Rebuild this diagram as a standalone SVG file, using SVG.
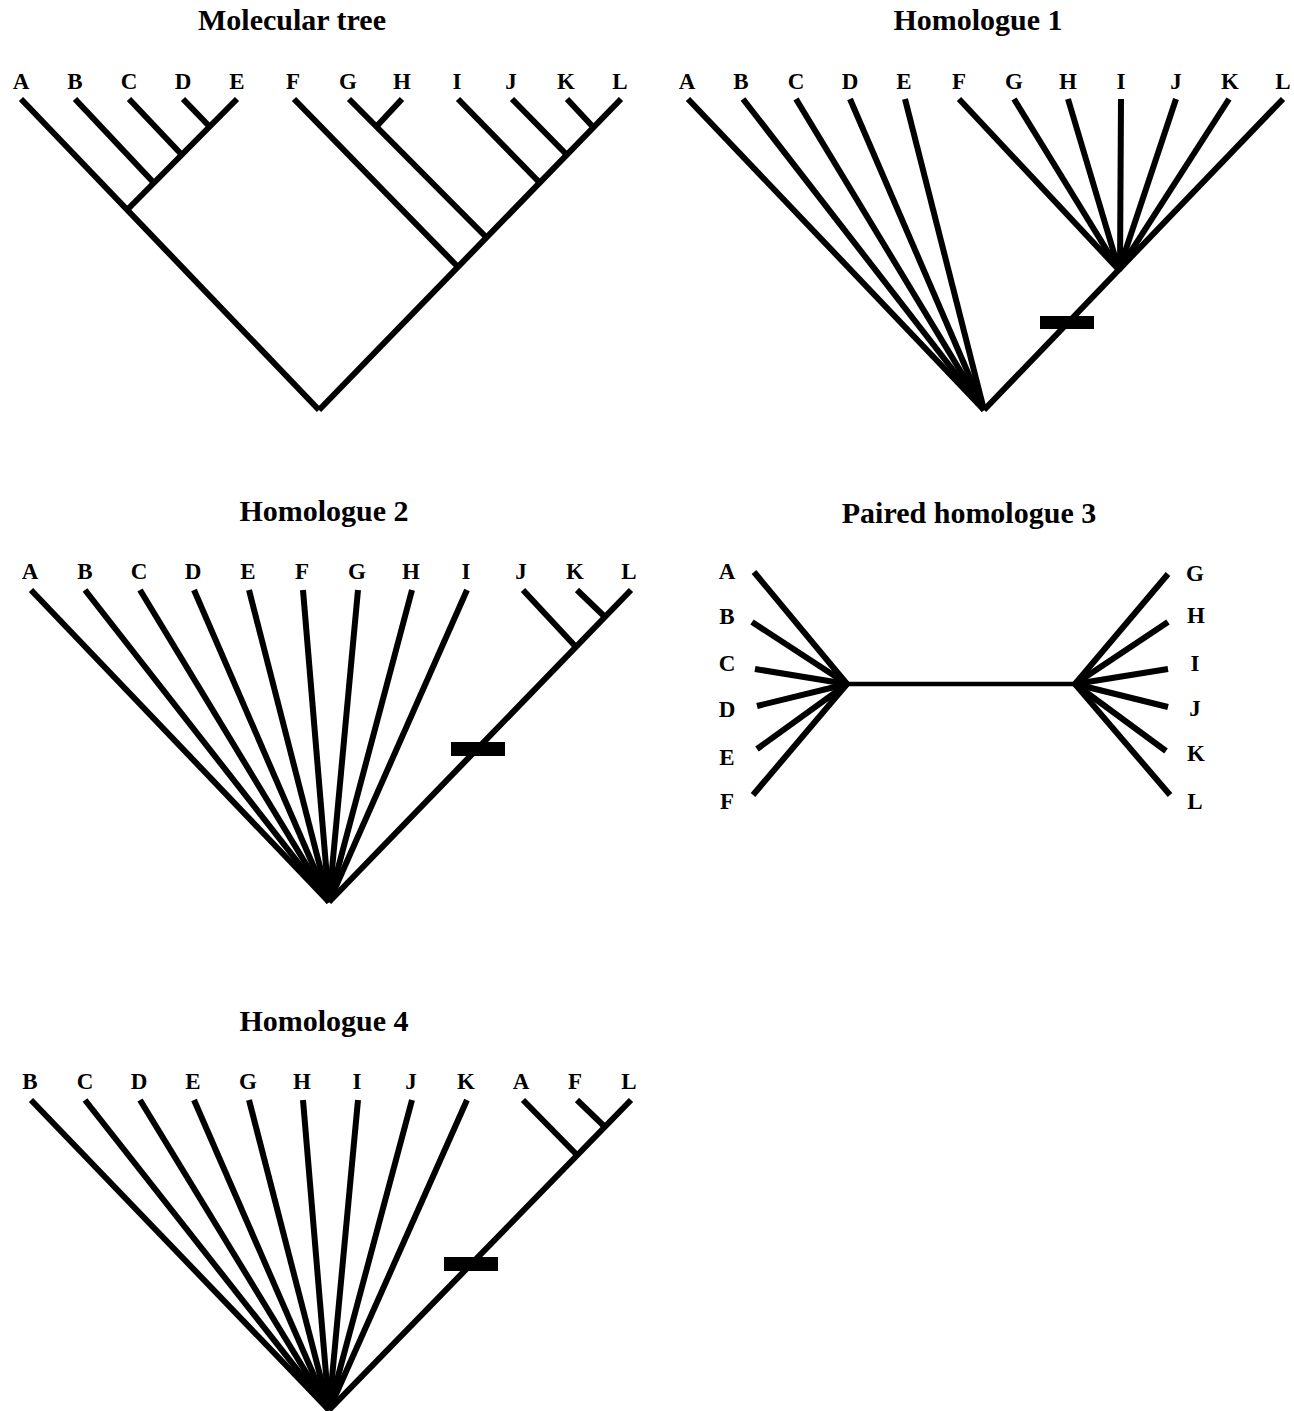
<svg xmlns="http://www.w3.org/2000/svg" width="1294" height="1411" viewBox="0 0 1294 1411">
<style>
.t{font-family:"Liberation Serif","Times New Roman",serif;font-weight:bold;font-size:30px;text-anchor:middle;fill:#000}
.l{font-family:"Liberation Serif","Times New Roman",serif;font-weight:bold;font-size:23px;text-anchor:middle;fill:#000}
.e{stroke:#000;stroke-width:6;fill:none;stroke-linecap:butt}
.h{stroke:#000;stroke-width:4.5;fill:none}
.bar{fill:#000}
</style>
<rect width="1294" height="1411" fill="#fff"/>

<!-- Molecular tree -->
<g id="molecular-tree">
<text class="t" x="292" y="30">Molecular tree</text>
<g id="mt-leaves">
<g id="mt-A"><text class="l" x="21" y="89">A</text></g>
<g id="mt-B"><text class="l" x="75" y="89">B</text></g>
<g id="mt-C"><text class="l" x="129" y="89">C</text></g>
<g id="mt-D"><text class="l" x="183" y="89">D</text></g>
<g id="mt-E"><text class="l" x="237" y="89">E</text></g>
<g id="mt-F"><text class="l" x="293" y="89">F</text></g>
<g id="mt-G"><text class="l" x="348" y="89">G</text></g>
<g id="mt-H"><text class="l" x="402" y="89">H</text></g>
<g id="mt-I"><text class="l" x="457" y="89">I</text></g>
<g id="mt-J"><text class="l" x="511" y="89">J</text></g>
<g id="mt-K"><text class="l" x="566" y="89">K</text></g>
<g id="mt-L"><text class="l" x="620" y="89">L</text></g>
</g>
<g id="mt-connectors" class="e">
<line x1="21" y1="99" x2="319" y2="410"/>
<line x1="237" y1="99" x2="127" y2="210"/>
<line x1="183" y1="99" x2="210" y2="127"/>
<line x1="129" y1="99" x2="182" y2="155"/>
<line x1="75" y1="99" x2="154" y2="183"/>
<line x1="621" y1="99" x2="319" y2="410"/>
<line x1="567" y1="99" x2="594" y2="128"/>
<line x1="512" y1="99" x2="567" y2="155"/>
<line x1="458" y1="99" x2="540" y2="183"/>
<line x1="349" y1="99" x2="487" y2="238"/>
<line x1="402" y1="99" x2="376" y2="127"/>
<line x1="294" y1="99" x2="458" y2="267"/>
</g>
</g>

<!-- Homologue 1 -->
<g id="homologue-1">
<text class="t" x="978" y="30">Homologue 1</text>
<g id="h1-leaves">
<g id="h1-A"><text class="l" x="687" y="89">A</text></g>
<g id="h1-B"><text class="l" x="741" y="89">B</text></g>
<g id="h1-C"><text class="l" x="796" y="89">C</text></g>
<g id="h1-D"><text class="l" x="850" y="89">D</text></g>
<g id="h1-E"><text class="l" x="904" y="89">E</text></g>
<g id="h1-F"><text class="l" x="959" y="89">F</text></g>
<g id="h1-G"><text class="l" x="1014" y="89">G</text></g>
<g id="h1-H"><text class="l" x="1068" y="89">H</text></g>
<g id="h1-I"><text class="l" x="1121" y="89">I</text></g>
<g id="h1-J"><text class="l" x="1176" y="89">J</text></g>
<g id="h1-K"><text class="l" x="1230" y="89">K</text></g>
<g id="h1-L"><text class="l" x="1283" y="89">L</text></g>
</g>
<g id="h1-connectors" class="e">
<line x1="688" y1="99" x2="984" y2="410"/>
<line x1="743" y1="99" x2="984" y2="410"/>
<line x1="796" y1="99" x2="984" y2="410"/>
<line x1="850" y1="99" x2="984" y2="410"/>
<line x1="905" y1="99" x2="984" y2="410"/>
<line x1="1283" y1="99" x2="984" y2="410"/>
<line x1="959" y1="99" x2="1119" y2="270"/>
<line x1="1014" y1="99" x2="1119" y2="270"/>
<line x1="1068" y1="99" x2="1119" y2="270"/>
<line x1="1121" y1="99" x2="1120" y2="270"/>
<line x1="1176" y1="99" x2="1119" y2="270"/>
<line x1="1229" y1="99" x2="1119" y2="270"/>
</g>
<rect class="bar" x="1040" y="316" width="54" height="13"/>
</g>

<!-- Homologue 2 -->
<g id="homologue-2">
<text class="t" x="324" y="521">Homologue 2</text>
<g id="h2-leaves">
<g id="h2-A"><text class="l" x="30" y="579">A</text></g>
<g id="h2-B"><text class="l" x="85" y="579">B</text></g>
<g id="h2-C"><text class="l" x="139" y="579">C</text></g>
<g id="h2-D"><text class="l" x="193" y="579">D</text></g>
<g id="h2-E"><text class="l" x="248" y="579">E</text></g>
<g id="h2-F"><text class="l" x="302" y="579">F</text></g>
<g id="h2-G"><text class="l" x="357" y="579">G</text></g>
<g id="h2-H"><text class="l" x="411" y="579">H</text></g>
<g id="h2-I"><text class="l" x="466" y="579">I</text></g>
<g id="h2-J"><text class="l" x="521" y="579">J</text></g>
<g id="h2-K"><text class="l" x="575" y="579">K</text></g>
<g id="h2-L"><text class="l" x="629" y="579">L</text></g>
</g>
<g id="h2-connectors" class="e">
<line x1="31" y1="590" x2="329" y2="902"/>
<line x1="85" y1="590" x2="329" y2="902"/>
<line x1="140" y1="590" x2="329" y2="902"/>
<line x1="194" y1="590" x2="329" y2="902"/>
<line x1="249" y1="590" x2="329" y2="902"/>
<line x1="303" y1="590" x2="329" y2="902"/>
<line x1="358" y1="590" x2="329" y2="902"/>
<line x1="412" y1="590" x2="329" y2="902"/>
<line x1="467" y1="590" x2="329" y2="902"/>
<line x1="631" y1="590" x2="329" y2="902"/>
<line x1="577" y1="590" x2="605" y2="617"/>
<line x1="523" y1="590" x2="576" y2="647"/>
</g>
<rect class="bar" x="451" y="742" width="54" height="14"/>
</g>

<!-- Paired homologue 3 -->
<g id="paired-homologue-3">
<text class="t" x="969" y="523">Paired homologue 3</text>
<g id="p3-leaves">
<g id="p3-A"><text class="l" x="727" y="579">A</text></g>
<g id="p3-B"><text class="l" x="727" y="624">B</text></g>
<g id="p3-C"><text class="l" x="727" y="671">C</text></g>
<g id="p3-D"><text class="l" x="727" y="717">D</text></g>
<g id="p3-E"><text class="l" x="727" y="765">E</text></g>
<g id="p3-F"><text class="l" x="727" y="809">F</text></g>
<g id="p3-G"><text class="l" x="1195" y="581">G</text></g>
<g id="p3-H"><text class="l" x="1196" y="623">H</text></g>
<g id="p3-I"><text class="l" x="1195" y="671">I</text></g>
<g id="p3-J"><text class="l" x="1195" y="716">J</text></g>
<g id="p3-K"><text class="l" x="1196" y="761">K</text></g>
<g id="p3-L"><text class="l" x="1195" y="809">L</text></g>
</g>
<g id="p3-connectors">
<line class="h" x1="845" y1="684" x2="1077" y2="684"/>
<g class="e">
<line x1="754" y1="572" x2="847" y2="684"/>
<line x1="752" y1="622" x2="847" y2="684"/>
<line x1="755" y1="669" x2="847" y2="684"/>
<line x1="757" y1="706" x2="847" y2="684"/>
<line x1="757" y1="749" x2="847" y2="684"/>
<line x1="753" y1="795" x2="847" y2="684"/>
<line x1="1168" y1="574" x2="1075" y2="684"/>
<line x1="1168" y1="622" x2="1075" y2="684"/>
<line x1="1168" y1="669" x2="1075" y2="684"/>
<line x1="1168" y1="707" x2="1075" y2="684"/>
<line x1="1166" y1="751" x2="1075" y2="684"/>
<line x1="1170" y1="795" x2="1075" y2="684"/>
</g>
</g>
</g>

<!-- Homologue 4 -->
<g id="homologue-4">
<text class="t" x="324" y="1031">Homologue 4</text>
<g id="h4-leaves">
<g id="h4-B"><text class="l" x="30" y="1089">B</text></g>
<g id="h4-C"><text class="l" x="85" y="1089">C</text></g>
<g id="h4-D"><text class="l" x="139" y="1089">D</text></g>
<g id="h4-E"><text class="l" x="193" y="1089">E</text></g>
<g id="h4-G"><text class="l" x="248" y="1089">G</text></g>
<g id="h4-H"><text class="l" x="302" y="1089">H</text></g>
<g id="h4-I"><text class="l" x="357" y="1089">I</text></g>
<g id="h4-J"><text class="l" x="411" y="1089">J</text></g>
<g id="h4-K"><text class="l" x="466" y="1089">K</text></g>
<g id="h4-A"><text class="l" x="521" y="1089">A</text></g>
<g id="h4-F"><text class="l" x="575" y="1089">F</text></g>
<g id="h4-L"><text class="l" x="629" y="1089">L</text></g>
</g>
<g id="h4-connectors" class="e">
<line x1="31" y1="1100" x2="329" y2="1410"/>
<line x1="85" y1="1100" x2="329" y2="1410"/>
<line x1="140" y1="1100" x2="329" y2="1410"/>
<line x1="194" y1="1100" x2="329" y2="1410"/>
<line x1="249" y1="1100" x2="329" y2="1410"/>
<line x1="303" y1="1100" x2="329" y2="1410"/>
<line x1="358" y1="1100" x2="329" y2="1410"/>
<line x1="412" y1="1100" x2="329" y2="1410"/>
<line x1="467" y1="1100" x2="329" y2="1410"/>
<line x1="631" y1="1100" x2="329" y2="1410"/>
<line x1="577" y1="1100" x2="605" y2="1127"/>
<line x1="523" y1="1100" x2="577" y2="1155"/>
</g>
<rect class="bar" x="444" y="1257" width="54" height="14"/>
</g>
</svg>
